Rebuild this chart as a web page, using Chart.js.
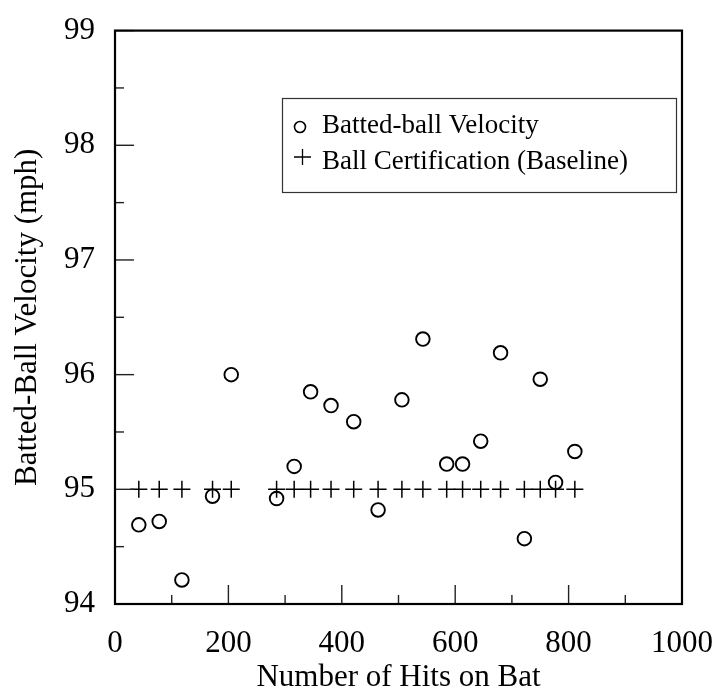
<!DOCTYPE html>
<html>
<head>
<meta charset="utf-8">
<script src="https://cdn.jsdelivr.net/npm/chart.js@4/dist/chart.umd.min.js"></script>
<style>
  html, body { margin: 0; padding: 0; background: #fff; }
  #wrap { width: 726px; height: 693px; }
</style>
</head>
<body>
<div id="wrap"><canvas id="scatterChart" width="726" height="693"></canvas></div>
<script>
// hits on bat for each measurement
const hits = [42, 78, 118, 172, 205, 285, 316, 345, 381, 421, 464, 506, 543, 585, 613, 645, 680, 722, 750, 777, 811];
const battedVelocity = [94.69, 94.72, 94.21, 94.94, 96.00, 94.92, 95.20, 95.85, 95.73, 95.59, 94.82, 95.78, 96.31, 95.22, 95.22, 95.42, 96.19, 94.57, 95.96, 95.06, 95.33];
const certHits = [42, 78, 118, 172, 205, 285, 316, 345, 381, 421, 464, 506, 543, 585, 613, 645, 680, 722, 750, 777, 811];
const certVelocity = [95.0, 95.0, 95.0, 95.0, 95.0, 95.0, 95.0, 95.0, 95.0, 95.0, 95.0, 95.0, 95.0, 95.0, 95.0, 95.0, 95.0, 95.0, 95.0, 95.0, 95.0];
const xTicks = [0, 200, 400, 600, 800, 1000];
const yTicks = [94, 95, 96, 97, 98, 99];

const serif = "'Liberation Serif', 'Times New Roman', serif";

// frame, inward ticks and the boxed legend
const framePlugin = {
  id: 'frame',
  afterDraw(chart) {
    const { ctx, chartArea: a, scales } = chart;
    ctx.save();
    ctx.strokeStyle = '#222';
    ctx.lineWidth = 1.4;
    for (let v = 94.5; v < 99; v += 1) {
      const y = scales.y.getPixelForValue(v);
      ctx.beginPath(); ctx.moveTo(a.left, y); ctx.lineTo(a.left + 9, y); ctx.stroke();
    }
    yTicks.forEach(v => {
      const y = scales.y.getPixelForValue(v);
      ctx.beginPath(); ctx.moveTo(a.left, y); ctx.lineTo(a.left + 19, y); ctx.stroke();
    });
    for (let v = 100; v < 1000; v += 200) {
      const x = scales.x.getPixelForValue(v);
      ctx.beginPath(); ctx.moveTo(x, a.bottom); ctx.lineTo(x, a.bottom - 9); ctx.stroke();
    }
    xTicks.forEach(v => {
      const x = scales.x.getPixelForValue(v);
      ctx.beginPath(); ctx.moveTo(x, a.bottom); ctx.lineTo(x, a.bottom - 19); ctx.stroke();
    });
    ctx.strokeStyle = '#000';
    ctx.lineWidth = 2.2;
    ctx.strokeRect(a.left, a.top, a.right - a.left, a.bottom - a.top);

    // legend box
    ctx.strokeStyle = '#333';
    ctx.lineWidth = 1.2;
    ctx.strokeRect(282.5, 98.5, 394, 94);
    ctx.strokeStyle = '#000';
    ctx.font = '27px ' + serif;
    ctx.fillStyle = '#000';
    ctx.textBaseline = 'alphabetic';
    const ds = chart.data.datasets;
    ctx.lineWidth = 1.6;
    ctx.beginPath(); ctx.arc(300, 127, 5.5, 0, Math.PI * 2); ctx.stroke();
    ctx.fillText(ds[0].label, 322, 133);
    ctx.lineWidth = 1.3;
    ctx.beginPath();
    ctx.moveTo(294, 157); ctx.lineTo(311, 157);
    ctx.moveTo(302.5, 149); ctx.lineTo(302.5, 165);
    ctx.stroke();
    ctx.fillText(ds[1].label, 322, 169);
    ctx.restore();
  }
};

new Chart(document.getElementById('scatterChart'), {
  type: 'scatter',
  data: {
    datasets: [
      {
        label: 'Batted-ball Velocity',
        data: hits.map((h, i) => ({ x: h, y: battedVelocity[i] })),
        pointStyle: 'circle',
        pointRadius: 6.8,
        borderColor: '#000',
        backgroundColor: 'rgba(0,0,0,0)',
        borderWidth: 1.9,
      },
      {
        label: 'Ball Certification (Baseline)',
        data: certHits.map((h, i) => ({ x: h, y: certVelocity[i] })),
        pointStyle: 'cross',
        pointRadius: 8.5,
        borderColor: '#000',
        borderWidth: 1.5,
      },
    ],
  },
  options: {
    responsive: false,
    animation: false,
    events: [],
    layout: { padding: { top: 23, right: 35, left: 0, bottom: 0 } },
    plugins: { legend: { display: false }, tooltip: { enabled: false } },
    scales: {
      x: {
        type: 'linear',
        min: 0, max: 1000,
        grid: { display: false },
        border: { display: false },
        afterBuildTicks: s => { s.ticks = xTicks.map(v => ({ value: v })); },
        afterFit: s => { s.height = 89; },
        ticks: { color: '#000', font: { family: serif, size: 31 }, padding: 13, maxRotation: 0, callback: v => String(v) },
        title: { display: true, text: 'Number of Hits on Bat', color: '#000', font: { family: serif, size: 31, lineHeight: 1 }, padding: { top: 0, bottom: 0 } },
      },
      y: {
        type: 'linear',
        min: 94, max: 99,
        grid: { display: false },
        border: { display: false },
        afterBuildTicks: s => { s.ticks = yTicks.map(v => ({ value: v })); },
        afterFit: s => { s.width = 115; },
        ticks: { color: '#000', font: { family: serif, size: 31 }, padding: 12, callback: v => String(v) },
        title: { display: true, text: 'Batted-Ball Velocity (mph)', color: '#000', font: { family: serif, size: 31, lineHeight: 1 }, padding: { top: 12, bottom: 0 } },
      },
    },
  },
  plugins: [framePlugin],
});
</script>
</body>
</html>
